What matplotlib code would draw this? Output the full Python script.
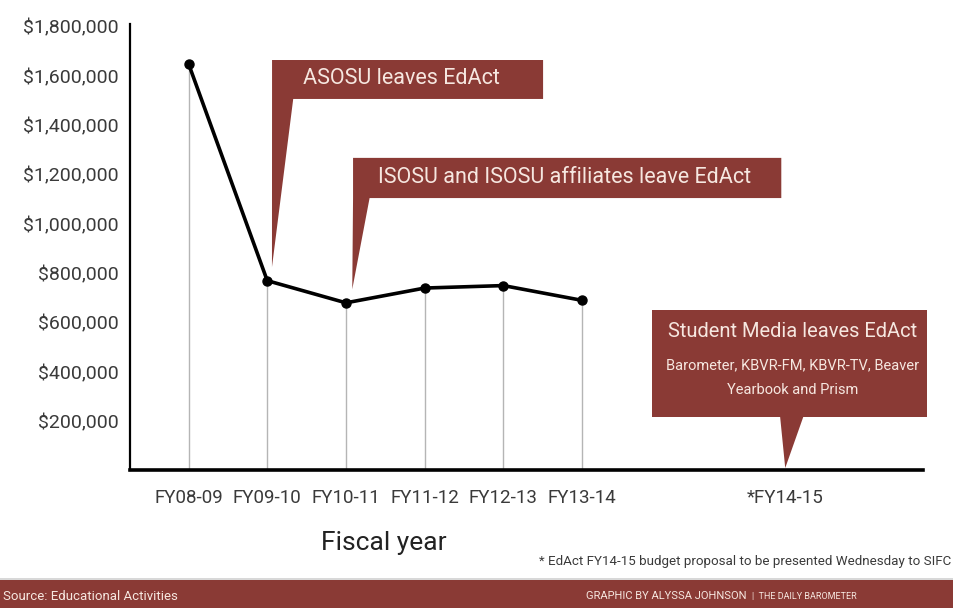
import matplotlib.pyplot as plt
from matplotlib.patches import Polygon, Rectangle

# 数据
years = ['FY08-09', 'FY09-10', 'FY10-11', 'FY11-12', 'FY12-13', 'FY13-14']
budget = [1650000, 770000, 680000, 740000, 750000, 690000]
future_label = '*FY14-15'
yticks = [200000, 400000, 600000, 800000, 1000000, 1200000, 1400000, 1600000, 1800000]

plt.rcParams['font.family'] = ['Roboto', 'DejaVu Sans']

RED = '#8a3a35'
TXT = '#f6e7e0'
GREY = '#3a3a3a'

fig = plt.figure(figsize=(9.54, 6.08), dpi=100)
ax = fig.add_axes([0.1363, 0.2262, 0.8312, 0.7343])

x = list(range(len(years)))
x_future = 7.58

# 竖直灰线 + 折线
ax.vlines(x, 0, budget, color='#b5b5b5', lw=1.0, zorder=1)
ax.plot(x, budget, color='black', lw=2.6, marker='o', ms=6.5, zorder=3)

ax.set_xlim(-0.743, 9.33)
ax.set_ylim(0, 1811000)

ax.set_xticks(x + [x_future])
ax.set_xticklabels(years + [future_label], fontsize=13.5)
ax.set_yticks(yticks)
ax.set_yticklabels(['${:,}'.format(v) for v in yticks], fontsize=14)
ax.tick_params(axis='both', length=0, labelcolor=GREY)
ax.tick_params(axis='y', pad=8)
ax.tick_params(axis='x', pad=13)

for s in ['top', 'right']:
    ax.spines[s].set_visible(False)
ax.spines['left'].set_linewidth(1.6)
ax.spines['bottom'].set_linewidth(2.6)

ax.set_xlabel('Fiscal year', fontsize=19, color='#222222')
ax.xaxis.set_label_coords(0.32, -0.135)


def callout(x0, x1, top, bot, wedge_x, tip):
    pts = [(x0, top), (x1, top), (x1, bot), (wedge_x, bot), tip, (x0, bot)]
    ax.add_patch(Polygon(pts, closed=True, facecolor=RED, edgecolor='none',
                         zorder=4, clip_on=False))


# ASOSU 标注（指向 FY09-10）
callout(1.061, 4.504, 1665000, 1507000, 1.33, (1.06, 825000))
ax.text(1.45, 1590000, 'ASOSU leaves EdAct', color=TXT, fontsize=15.5,
        va='center', ha='left', zorder=5)

# ISOSU 标注（指向 FY10-11）
callout(2.09, 7.53, 1268000, 1105000, 2.30, (2.08, 735000))
ax.text(2.41, 1190000, 'ISOSU and ISOSU affiliates leave EdAct', color=TXT,
        fontsize=15.5, va='center', ha='left', zorder=5)

# Student Media 标注（指向 FY14-15）
ax.add_patch(Rectangle((5.89, 217000), 9.38 - 5.89, 651000 - 217000,
                       facecolor=RED, edgecolor='none', zorder=4, clip_on=False))
ax.add_patch(Polygon([(7.515, 218000), (7.81, 218000), (x_future, 10000)],
                     closed=True, facecolor=RED, edgecolor='none', zorder=4,
                     clip_on=False))
ax.text(7.67, 562000, 'Student Media leaves EdAct', color=TXT, fontsize=14.5,
        ha='center', va='center', zorder=5)
ax.text(7.67, 425000, 'Barometer, KBVR-FM, KBVR-TV, Beaver', color=TXT,
        fontsize=10.5, ha='center', va='center', zorder=5)
ax.text(7.67, 325000, 'Yearbook and Prism', color=TXT, fontsize=10.5,
        ha='center', va='center', zorder=5)

# 脚注
fig.text(0.997, (608 - 562) / 608, '* EdAct FY14-15 budget proposal to be presented Wednesday to SIFC',
         ha='right', va='center', fontsize=9.6, color=GREY)

# 底部红色条
fig.patches.append(Rectangle((0, 0), 1, 28 / 608, transform=fig.transFigure,
                             facecolor=RED, edgecolor='none'))
fig.patches.append(Rectangle((0, 28 / 608), 1, 2 / 608, transform=fig.transFigure,
                             facecolor='#d8d8d8', edgecolor='none'))
fig.text(0.003, 12 / 608, 'Source: Educational Activities', ha='left', va='center',
         fontsize=9.5, color=TXT)
fig.text(0.783, 12 / 608, 'GRAPHIC BY ALYSSA JOHNSON', ha='right', va='center',
         fontsize=8, color=TXT)
fig.text(0.788, 12 / 608, '|  THE DAILY BAROMETER', ha='left', va='center',
         fontsize=6.5, color=TXT)

fig.savefig('out.png', dpi=100)
